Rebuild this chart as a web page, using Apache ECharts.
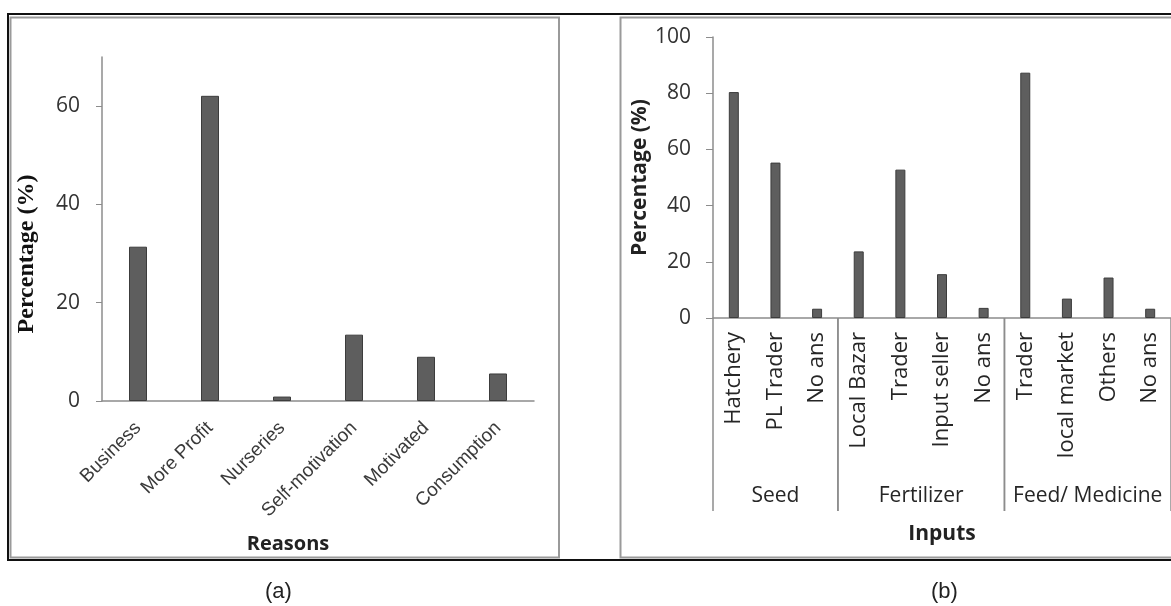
<!DOCTYPE html>
<html>
<head>
<meta charset="utf-8">
<script src="https://cdn.jsdelivr.net/npm/echarts@6/dist/echarts.min.js"></script>
<style>
  html, body { margin: 0; padding: 0; background: #fff; }
  #main { width: 1171px; height: 606px; }
</style>
</head>
<body>
<div id="main"></div>
<script>
// 左图 (a) 数据
var reasons = ['Business', 'More Profit', 'Nurseries', 'Self-motivation', 'Motivated', 'Consumption'];
var reasonValues = [31.4, 62.1, 0.9, 13.5, 9.0, 5.6];
var yTicksA = [0, 20, 40, 60];

// 右图 (b) 数据
var inputs = ['Hatchery', 'PL Trader', 'No ans', 'Local Bazar', 'Trader', 'Input seller', 'No ans',
    'Trader', 'local market', 'Others', 'No ans'];
var inputValues = [80.4, 55.3, 3.3, 23.7, 52.8, 15.6, 3.6, 87.3, 6.9, 14.4, 3.3];
var groups = ['Seed', 'Fertilizer', 'Feed/ Medicine'];
var groupSizes = [3, 4, 4];
var yTicksB = [0, 20, 40, 60, 80, 100];

var chartDom = document.getElementById('main');
var myChart = echarts.init(chartDom);
var option;

// 分组的起止下标
var groupData = [];
var start = 0;
for (var i = 0; i < groupSizes.length; i++) {
    groupData.push({ name: groups[i], value: [start, start + groupSizes[i] - 1, 0] });
    start += groupSizes[i];
}

var barStyle = { color: '#5e5e5e', borderColor: '#3c3c3c', borderWidth: 1 };
var calibri = '"Open Sans", sans-serif';

option = {
    animation: false,
    backgroundColor: '#fff',
    graphic: [
        // 外框
        { type: 'line', shape: { x1: 8, y1: 14, x2: 1171, y2: 14 }, style: { stroke: '#111', lineWidth: 2 } },
        { type: 'line', shape: { x1: 8, y1: 560, x2: 1171, y2: 560 }, style: { stroke: '#111', lineWidth: 2 } },
        { type: 'line', shape: { x1: 8, y1: 13, x2: 8, y2: 561 }, style: { stroke: '#111', lineWidth: 2 } },
        { type: 'rect', shape: { x: 10.5, y: 17.5, width: 548.5, height: 540 }, style: { fill: 'none', stroke: '#9a9a9a', lineWidth: 2 } },
        { type: 'rect', shape: { x: 620.5, y: 17.5, width: 600, height: 540 }, style: { fill: 'none', stroke: '#9a9a9a', lineWidth: 2 } },
        { type: 'text', left: 265, top: 581, style: { text: '(a)', font: '22px "Liberation Sans", Arial', fill: '#222' } },
        { type: 'text', left: 931, top: 581, style: { text: '(b)', font: '22px "Liberation Sans", Arial', fill: '#222' } }
    ],
    grid: [
        { left: 102, top: 57, width: 432, height: 344 },
        { left: 713, top: 37, width: 460, height: 281 }
    ],
    xAxis: [
        {
            type: 'category',
            gridIndex: 0,
            data: reasons,
            name: 'Reasons',
            nameLocation: 'middle',
            nameGap: 133,
            nameTextStyle: { fontFamily: calibri, fontWeight: 'bold', fontSize: 20, color: '#222', padding: [0, 60, 0, 0] },
            axisLine: { lineStyle: { color: '#8c8c8c', width: 1.5 } },
            axisTick: { show: false },
            axisLabel: { rotate: 45, margin: 24, interval: 0, fontFamily: '"Liberation Sans", Arial', fontSize: 19, color: '#3a3a3a' }
        },
        {
            type: 'category',
            gridIndex: 1,
            data: inputs,
            name: 'Inputs',
            nameLocation: 'middle',
            nameGap: 206,
            nameTextStyle: { fontFamily: calibri, fontWeight: 'bold', fontSize: 21, color: '#222' },
            axisLine: { lineStyle: { color: '#8c8c8c', width: 1.5 } },
            axisTick: { show: false },
            axisLabel: { rotate: 90, margin: 14, interval: 0, fontFamily: calibri, fontSize: 22, color: '#262626' }
        }
    ],
    yAxis: [
        {
            type: 'value',
            gridIndex: 0,
            min: 0,
            max: 70,
            interval: 20,
            name: 'Percentage (%)',
            nameLocation: 'middle',
            nameGap: 63,
            nameTextStyle: { fontFamily: '"Liberation Serif", serif', fontWeight: 'bold', fontSize: 24, color: '#111', padding: [0, 50, 0, 0] },
            splitLine: { show: false },
            axisLine: { show: true, lineStyle: { color: '#8c8c8c', width: 1.5 } },
            axisTick: { show: true, length: 6, customValues: yTicksA, lineStyle: { color: '#8c8c8c' } },
            axisLabel: { margin: 22, customValues: yTicksA, fontFamily: calibri, fontSize: 21, color: '#333' }
        },
        {
            type: 'value',
            gridIndex: 1,
            min: 0,
            max: 100,
            interval: 20,
            name: 'Percentage (%)',
            nameLocation: 'middle',
            nameGap: 62,
            nameTextStyle: { fontFamily: calibri, fontWeight: 'bold', fontSize: 21, color: '#222' },
            splitLine: { show: false },
            axisLine: { show: true, lineStyle: { color: '#8c8c8c', width: 1.5 } },
            axisTick: { show: true, length: 7, customValues: yTicksB, lineStyle: { color: '#8c8c8c' } },
            axisLabel: { margin: 22, customValues: yTicksB, fontFamily: calibri, fontSize: 21, color: '#333' }
        }
    ],
    series: [
        {
            type: 'bar',
            xAxisIndex: 0,
            yAxisIndex: 0,
            barWidth: 18,
            data: reasonValues,
            itemStyle: barStyle
        },
        {
            type: 'bar',
            xAxisIndex: 1,
            yAxisIndex: 1,
            barWidth: 10,
            data: inputValues,
            itemStyle: barStyle
        },
        {
            // 第二层分类: 分组标签和分隔线
            type: 'custom',
            xAxisIndex: 1,
            yAxisIndex: 1,
            silent: true,
            clip: false,
            encode: { x: [0, 1], y: 2 },
            data: groupData,
            renderItem: function (params, api) {
                var s = api.coord([api.value(0), 0]);
                var e = api.coord([api.value(1), 0]);
                var bw = api.size([1, 0])[0];
                var x0 = s[0] - bw / 2;
                var x1 = e[0] + bw / 2;
                var y0 = s[1];
                return {
                    type: 'group',
                    children: [
                        { type: 'line', shape: { x1: x0, y1: y0, x2: x0, y2: y0 + 193 }, style: { stroke: '#8c8c8c', lineWidth: 1.5 } },
                        { type: 'line', shape: { x1: x1, y1: y0, x2: x1, y2: y0 + 193 }, style: { stroke: '#8c8c8c', lineWidth: 1.5 } },
                        {
                            type: 'text',
                            x: (x0 + x1) / 2,
                            y: y0 + 178,
                            style: { text: groups[params.dataIndex], font: '21px "Open Sans", sans-serif', fill: '#262626', align: 'center', verticalAlign: 'middle' }
                        }
                    ]
                };
            }
        }
    ]
};
option && myChart.setOption(option);
</script>
</body>
</html>
